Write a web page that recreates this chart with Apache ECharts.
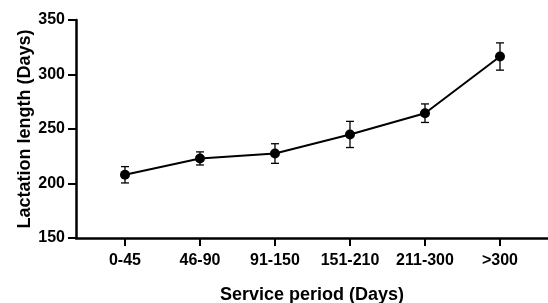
<!DOCTYPE html>
<html>
<head>
<meta charset="utf-8">
<script src="https://cdn.jsdelivr.net/npm/echarts@6/dist/echarts.min.js"></script>
<style>
  html, body { margin: 0; padding: 0; background: #fff; }
  #chart { width: 548px; height: 303px; }
</style>
</head>
<body>
<div id="chart"></div>
<script>
// Service period groups and mean lactation length (days) with error
const categories = ['0-45', '46-90', '91-150', '151-210', '211-300', '>300'];
const means = [208, 223, 227.5, 245, 264.5, 316.5];
const errors = [7.5, 6, 9, 12, 8.5, 12.5];
const yTicks = [150, 200, 250, 300, 350];

const font = 'Liberation Sans, Arial, sans-serif';

const lineData = means.map((m, i) => [i, m]);
const barData = means.map((m, i) => [i, m - errors[i], m + errors[i]]);

const chart = echarts.init(document.getElementById('chart'), null, { renderer: 'canvas' });

chart.setOption({
    animation: false,
    grid: { left: 76, right: 0, top: 20, bottom: 65, containLabel: false, outerBoundsMode: 'none' },
    xAxis: {
        type: 'value',
        min: -0.653,
        max: 5.64,
        name: 'Service period (Days)',
        nameLocation: 'middle',
        nameGap: 48,
        nameMoveOverlap: false,
        nameTextStyle: { fontFamily: font, fontWeight: 'bold', fontSize: 18, color: '#000' },
        splitLine: { show: false },
        axisLine: { onZero: false, lineStyle: { color: '#000', width: 2.5 } },
        axisTick: {
            customValues: categories.map((c, i) => i),
            length: 8,
            lineStyle: { color: '#000', width: 2 }
        },
        axisLabel: {
            customValues: categories.map((c, i) => i),
            formatter: v => categories[v],
            margin: 15,
            fontFamily: font, fontWeight: 'bold', fontSize: 16, color: '#000'
        }
    },
    yAxis: {
        type: 'value',
        min: 150,
        max: 350,
        interval: 50,
        name: 'Lactation length (Days)',
        nameLocation: 'middle',
        nameGap: 42,
        nameMoveOverlap: false,
        nameTextStyle: { fontFamily: font, fontWeight: 'bold', fontSize: 18, color: '#000' },
        splitLine: { show: false },
        axisLine: { show: true, onZero: false, lineStyle: { color: '#000', width: 2.5 } },
        axisTick: { show: true, length: 8, lineStyle: { color: '#000', width: 2 } },
        axisLabel: {
            margin: 11,
            formatter: v => yTicks.indexOf(v) >= 0 ? String(v) : '',
            fontFamily: font, fontWeight: 'bold', fontSize: 16, color: '#000'
        }
    },
    series: [
        {
            // error bars with caps
            type: 'custom',
            data: barData,
            z: 3,
            renderItem: function (params, api) {
                const x = api.value(0);
                const lo = api.coord([x, api.value(1)]);
                const hi = api.coord([x, api.value(2)]);
                const cap = 4;
                const style = { stroke: '#000', lineWidth: 1.3 };
                return {
                    type: 'group',
                    children: [
                        { type: 'line', shape: { x1: lo[0], y1: lo[1], x2: hi[0], y2: hi[1] }, style: style },
                        { type: 'line', shape: { x1: hi[0] - cap, y1: hi[1], x2: hi[0] + cap, y2: hi[1] }, style: style },
                        { type: 'line', shape: { x1: lo[0] - cap, y1: lo[1], x2: lo[0] + cap, y2: lo[1] }, style: style }
                    ]
                };
            }
        },
        {
            type: 'line',
            data: lineData,
            z: 4,
            symbol: 'circle',
            symbolSize: 10,
            lineStyle: { color: '#000', width: 2 },
            itemStyle: { color: '#000' }
        }
    ]
});
</script>
</body>
</html>
